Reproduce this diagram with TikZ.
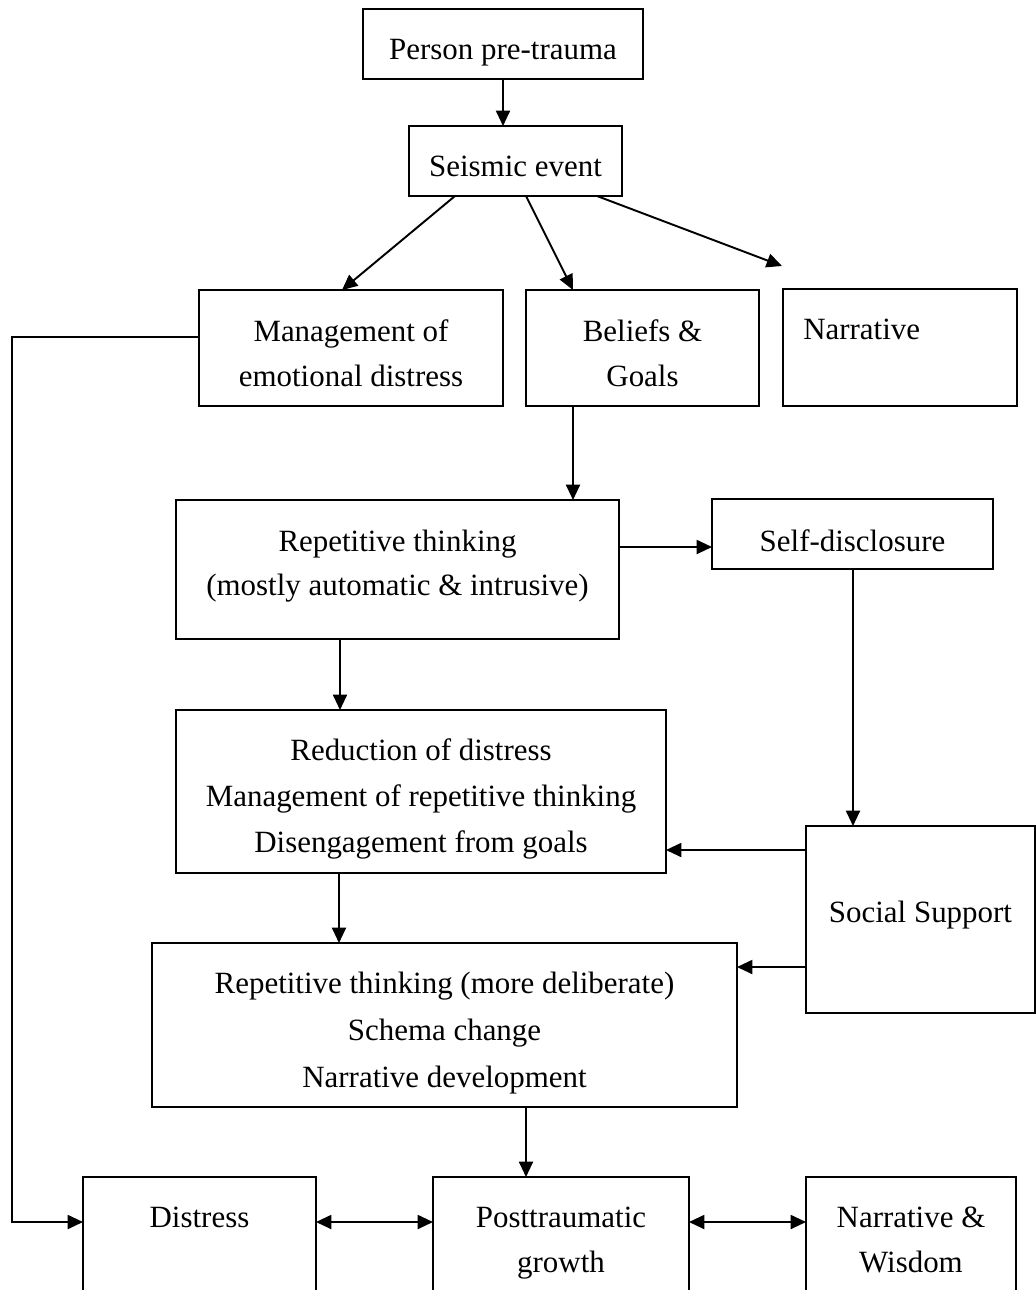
\documentclass[tikz,border=0pt]{standalone}
\usepackage{fontspec}
\setmainfont{Liberation Serif}
\usetikzlibrary{arrows.meta,calc}

% box given by its corners (x1,y1) and (x2,y2)
\newcommand\blockbox[5]{%
  \node[blk, minimum width={(#4-#2)*0.75pt}, minimum height={(#5-#3)*0.75pt}]
    (#1) at ({(#2+#4)/2},{(#3+#5)/2}) {};}

\begin{document}
\begin{tikzpicture}[
  x=0.75pt, y=-0.75pt,
  blk/.style={draw, line width=1.45pt, inner sep=0pt, outer sep=0pt},
  txt/.style={anchor=base, inner sep=0pt, font=\fontsize{23.2pt}{28pt}\selectfont},
  arr/.style={line width=1.45pt, -{Triangle[length=11.5pt,width=10.5pt]}},
  darr/.style={line width=1.45pt, {Triangle[length=11.5pt,width=10.5pt]}-{Triangle[length=11.5pt,width=10.5pt]}}
]
\path[fill=white, use as bounding box] (0,0) rectangle (1036,1290);

% boxes
\blockbox{person}{363}{9}{643}{79}
\blockbox{seismic}{409}{126}{622}{196}
\blockbox{mgmt}{199}{290}{503}{406}
\blockbox{beliefs}{526}{290}{759}{406}
\blockbox{narr}{783}{289}{1017}{406}
\blockbox{rep}{176}{500}{619}{639}
\blockbox{self}{712}{499}{993}{569}
\blockbox{red}{176}{710}{666}{873}
\blockbox{social}{806}{826}{1035}{1013}
\blockbox{delib}{152}{943}{737}{1107}
\blockbox{distress}{83}{1177}{316}{1340}
\blockbox{post}{433}{1177}{689}{1340}
\blockbox{wisdom}{806}{1177}{1016}{1340}

% texts
\node[txt] (t1) at (503,59) {Person pre-trauma};
\node[txt] (t2) at (515.5,176) {Seismic event};
\node[txt] (t3) at (351,341) {Management of};
\node[txt] (t4) at (351,386) {emotional distress};
\node[txt] (t5) at (642.5,341) {Beliefs \&};
\node[txt] (t6) at (642.5,386) {Goals};
\node[txt, anchor=base west] (t7) at (803,339) {Narrative};
\node[txt] (t8) at (397.5,551) {Repetitive thinking};
\node[txt] (t9) at (397.5,595) {(mostly automatic \& intrusive)};
\node[txt] (t10) at (852.5,551) {Self-disclosure};
\node[txt] (t11) at (421,760) {Reduction of distress};
\node[txt] (t12) at (421,806) {Management of repetitive thinking};
\node[txt] (t13) at (421,852) {Disengagement from goals};
\node[txt] (t14) at (920.5,922) {Social Support};
\node[txt] (t15) at (444.5,993) {Repetitive thinking (more deliberate)};
\node[txt] (t16) at (444.5,1040) {Schema change};
\node[txt] (t17) at (444.5,1087) {Narrative development};
\node[txt] (t18) at (199.5,1227) {Distress};
\node[txt] (t19) at (561,1227) {Posttraumatic};
\node[txt] (t20) at (561,1272) {growth};
\node[txt] (t21) at (911,1227) {Narrative \&};
\node[txt] (t22) at (911,1272) {Wisdom};

% connector positions
\coordinate (xa) at (503,0);
\coordinate (xs1) at (455,0);
\coordinate (xm1) at (342,0);
\coordinate (xs2) at (526,0);
\coordinate (xb1) at (573,0);
\coordinate (xs3) at (597,0);
\coordinate (free) at (782,266);
\coordinate (yr) at (0,547);
\coordinate (xr) at (340,0);
\coordinate (xsd) at (853,0);
\coordinate (y1) at (0,850);
\coordinate (y2) at (0,967);
\coordinate (xrd) at (339,0);
\coordinate (xd) at (526,0);
\coordinate (fbt) at (12,337);
\coordinate (fbb) at (12,1222);
\coordinate (yb) at (0,1222);

% connectors
\draw[arr] (person.south -| xa) -- (seismic.north -| xa);
\draw[arr] (seismic.south -| xs1) -- (mgmt.north -| xm1);
\draw[arr] (seismic.south -| xs2) -- (beliefs.north -| xb1);
\draw[arr] (seismic.south -| xs3) -- (free);
\draw[arr] (beliefs.south -| xb1) -- (rep.north -| xb1);
\draw[arr] (rep.east |- yr) -- (self.west |- yr);
\draw[arr] (rep.south -| xr) -- (red.north -| xr);
\draw[arr] (self.south -| xsd) -- (social.north -| xsd);
\draw[arr] (social.west |- y1) -- (red.east |- y1);
\draw[arr] (social.west |- y2) -- (delib.east |- y2);
\draw[arr] (red.south -| xrd) -- (delib.north -| xrd);
\draw[arr] (delib.south -| xd) -- (post.north -| xd);
\draw[arr] (mgmt.west |- fbt) -- (fbt) -- (fbb) -- (distress.west |- fbb);
\draw[darr] (distress.east |- yb) -- (post.west |- yb);
\draw[darr] (post.east |- yb) -- (wisdom.west |- yb);
\end{tikzpicture}
\end{document}
